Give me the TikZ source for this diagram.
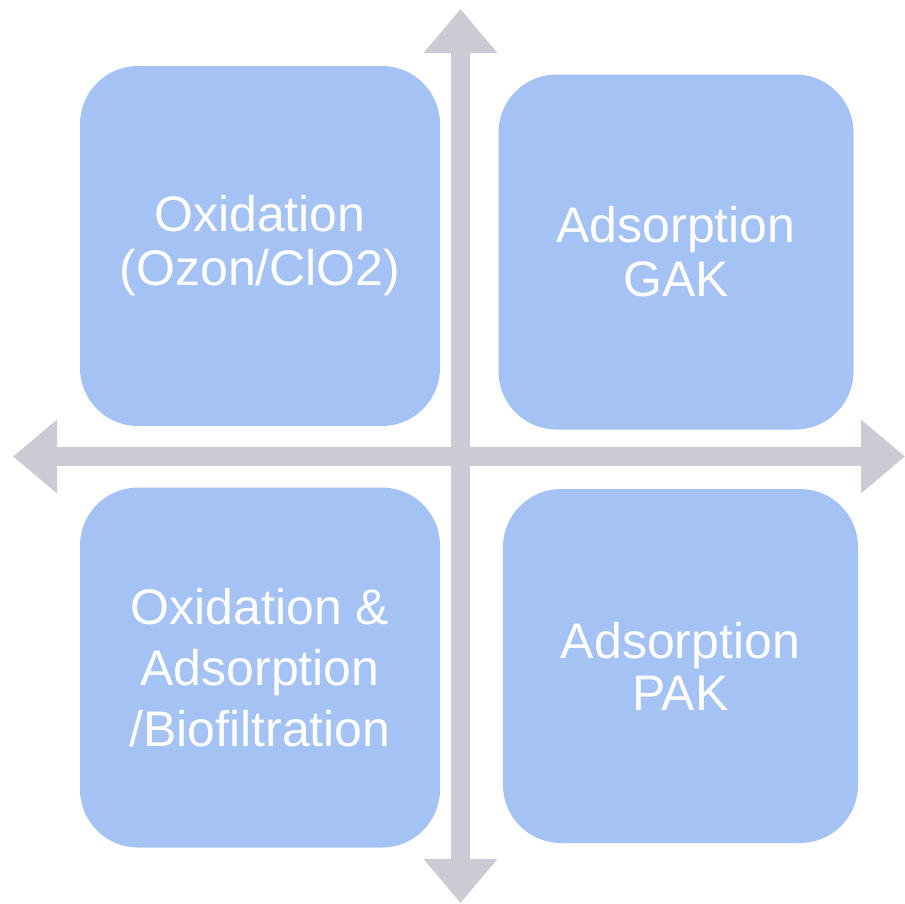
\documentclass[tikz,border=0pt]{standalone}
\usepackage{fontspec}
\setmainfont{Liberation Sans}
\usetikzlibrary{arrows.meta}
\definecolor{boxblue}{RGB}{164,194,244}
\definecolor{axisgray}{RGB}{203,203,214}
\tikzset{
  quad/.style={fill=boxblue, draw=none, rounded corners=58pt, text=white, align=center,
    font=\fontsize{50}{54}\selectfont},
  axis/.style={draw=axisgray, line width=19pt,
    {Triangle[width=71pt,length=44pt]}-{Triangle[width=71pt,length=44pt]}}
}
\begin{document}
\begin{tikzpicture}[x=1pt,y=-1pt]
\useasboundingbox (0,0) rectangle (905,903);
\coordinate (top) at (460.5,9);
\coordinate (bottom) at (460.5,903);
\coordinate (left) at (13,456.5);
\coordinate (right) at (905,456.5);
\draw[axis] (top) -- (bottom);
\draw[axis] (left) -- (right);
\node[quad, minimum width=360pt, minimum height=360pt] (q1) at (260,246) {Oxidation\\(Ozon/ClO2)};
\node[quad, minimum width=355pt, minimum height=355pt] (q2) at (676,252) {Adsorption\\GAK};
\node[quad, minimum width=360pt, minimum height=360pt, font=\fontsize{50}{61}\selectfont] (q3) at (260,667.5) {Oxidation \&\\Adsorption\\/Biofiltration};
\node[quad, minimum width=355pt, minimum height=354pt, font=\fontsize{50}{52}\selectfont] (q4) at (680.5,666) {Adsorption\\PAK};
\end{tikzpicture}
\end{document}
